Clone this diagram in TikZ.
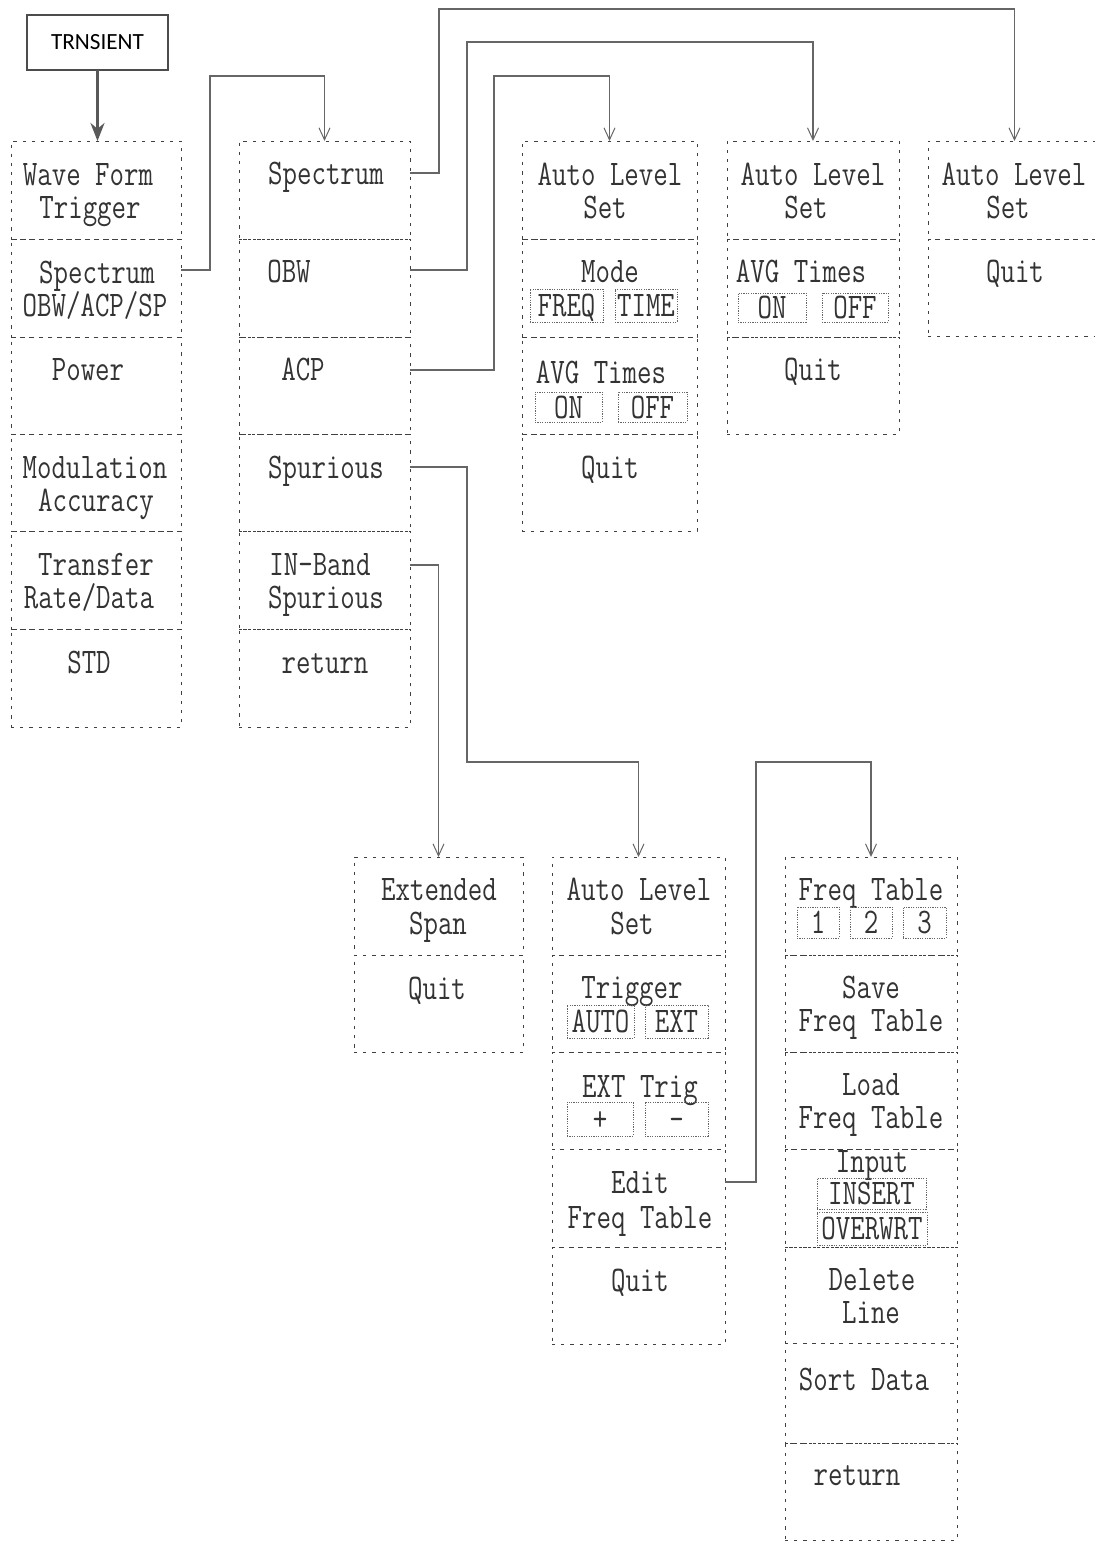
\documentclass[tikz,border=0pt]{standalone}
\usepackage{fontspec}
\newfontfamily\menufnt[FakeStretch=0.78]{Latin Modern Mono}
\newfontfamily\trnfnt{Carlito}
\usetikzlibrary{arrows.meta,calc}
\newcommand\mtxt{\menufnt\fontsize{18}{20}\selectfont}
\newcounter{tn}
\newcommand\tx[3]{\stepcounter{tn}\node[txt] (t\thetn) at (#1,#2) {#3};}
\newcommand\mrow[5]{\node[rowbox, minimum width={#4*0.5pt}, minimum height={#5*0.5pt}] (#1) at (#2,#3) {};}
\newcommand\subbx[6]{\node[subbox, minimum width={(#4-#2)*0.5pt}, minimum height={(#5-#3)*0.5pt}] (#1) at (#2,#3) {#6};}
\begin{document}
\begin{tikzpicture}[x=0.5pt,y=-0.5pt,
  rowbox/.style={draw=black!75, line width=0.5pt, dash pattern=on 1.6pt off 3pt, inner sep=0pt, outer sep=0pt, anchor=north west},
  subbox/.style={draw=black!60, line width=0.45pt, dash pattern=on 0.6pt off 0.6pt, inner sep=0pt, outer sep=0pt, anchor=north west, font=\mtxt, text height=11pt, text depth=0pt, text=black!80},
  txt/.style={font=\mtxt, anchor=base, inner sep=0pt, text=black!80},
  conn/.style={draw=black!60, line width=0.7pt, -{Straight Barb[length=6pt,width=5.5pt,line width=0.5pt]}}]
\useasboundingbox (0,0) rectangle (1094,1543);

% TRNSIENT
\node[draw=black!70, line width=1pt, minimum width=70.5pt, minimum height=27.5pt, inner sep=0pt, outer sep=0pt, font=\trnfnt\fontsize{11.6}{12}\selectfont, anchor=north west] (trn) at (27,15) {TRNSIENT};

% column 1
\mrow{c1r1}{11}{141}{170}{98}
\mrow{c1r2}{11}{239}{170}{98}
\mrow{c1r3}{11}{337}{170}{97}
\mrow{c1r4}{11}{434}{170}{97}
\mrow{c1r5}{11}{531}{170}{98}
\mrow{c1r6}{11}{629}{170}{98}
% column 2
\mrow{c2r1}{239}{141}{171}{98}
\mrow{c2r2}{239}{239}{171}{98}
\mrow{c2r3}{239}{337}{171}{97}
\mrow{c2r4}{239}{434}{171}{97}
\mrow{c2r5}{239}{531}{171}{98}
\mrow{c2r6}{239}{629}{171}{98}
% column 3
\mrow{c3r1}{522}{141}{175}{98}
\mrow{c3r2}{522}{239}{175}{98}
\mrow{c3r3}{522}{337}{175}{97}
\mrow{c3r4}{522}{434}{175}{97}
% column 4
\mrow{c4r1}{727}{141}{172}{98}
\mrow{c4r2}{727}{239}{172}{98}
\mrow{c4r3}{727}{337}{172}{97}
% column 5
\mrow{c5r1}{928}{141}{173}{98}
\mrow{c5r2}{928}{239}{173}{97}
% column 6
\mrow{c6r1}{354}{857}{169}{98}
\mrow{c6r2}{354}{955}{169}{97}
% column 7
\mrow{c7r1}{552}{857}{173}{98}
\mrow{c7r2}{552}{955}{173}{97}
\mrow{c7r3}{552}{1052}{173}{97}
\mrow{c7r4}{552}{1149}{173}{98}
\mrow{c7r5}{552}{1247}{173}{97}
% column 8
\mrow{c8r1}{785}{857}{172}{98}
\mrow{c8r2}{785}{955}{172}{97}
\mrow{c8r3}{785}{1052}{172}{97}
\mrow{c8r4}{785}{1149}{172}{98}
\mrow{c8r5}{785}{1247}{172}{96}
\mrow{c8r6}{785}{1343}{172}{100}
\mrow{c8r7}{785}{1443}{172}{97}

% texts column 1
\tx{88}{185}{Wave Form}
\tx{90}{218}{Trigger}
\tx{97}{283}{Spectrum}
\tx{95}{316}{OBW/ACP/SP}
\tx{88}{380}{Power}
\tx{95}{478}{Modulation}
\tx{96}{511}{Accuracy}
\tx{96}{575}{Transfer}
\tx{89}{608}{Rate/Data}
\tx{89}{673}{STD}
% column 2
\tx{326}{184}{Spectrum}
\tx{289}{282}{OBW}
\tx{303}{380}{ACP}
\tx{326}{478}{Spurious}
\tx{320}{575}{IN-Band}
\tx{326}{608}{Spurious}
\tx{325}{673}{return}
% column 3
\tx{610}{185}{Auto Level}
\tx{605}{218}{Set}
\tx{610}{282}{Mode}
\tx{601}{383}{AVG Times}
\tx{610}{478}{Quit}
% column 4
\tx{813}{185}{Auto Level}
\tx{806}{218}{Set}
\tx{801}{282}{AVG Times}
\tx{813}{380}{Quit}
% column 5
\tx{1014}{185}{Auto Level}
\tx{1008}{218}{Set}
\tx{1015}{282}{Quit}
% column 6
\tx{439}{900}{Extended}
\tx{438}{934}{Span}
\tx{437}{999}{Quit}
% column 7
\tx{639}{900}{Auto Level}
\tx{632}{934}{Set}
\tx{632}{998}{Trigger}
\tx{640}{1097}{EXT Trig}
\tx{640}{1193}{Edit}
\tx{640}{1228}{Freq Table}
\tx{640}{1291}{Quit}
% column 8
\tx{871}{900}{Freq Table}
\tx{871}{998}{Save}
\tx{871}{1031}{Freq Table}
\tx{871}{1095}{Load}
\tx{871}{1128}{Freq Table}
\tx{872}{1172}{Input}
\tx{872}{1290}{Delete}
\tx{871}{1323}{Line}
\tx{864}{1390}{Sort Data}
\tx{857}{1485}{return}

% option boxes
\subbx{freq}{530}{289}{603}{322}{FREQ}
\subbx{time}{615}{289}{677}{322}{TIME}
\subbx{onA}{535}{392}{602}{422}{ON}
\subbx{offA}{618}{392}{687}{422}{OFF}
\subbx{onB}{738}{293}{806}{322}{ON}
\subbx{offB}{822}{293}{888}{322}{OFF}
\subbx{auto}{567}{1005}{634}{1038}{AUTO}
\subbx{ext}{645}{1005}{708}{1038}{EXT}
\subbx{plus}{567}{1102}{633}{1136}{+}
\subbx{minus}{645}{1102}{708}{1136}{-}
\subbx{ft1}{797}{907}{839}{938}{1}
\subbx{ft2}{850}{907}{892}{938}{2}
\subbx{ft3}{903}{907}{946}{938}{3}
\subbx{ins}{817}{1178}{926}{1209}{INSERT}
\subbx{ovw}{817}{1212}{927}{1245}{OVERWRT}

% connectors
\draw[black!65, line width=1.5pt, -{Stealth[length=9pt,width=7pt]}] (trn.south) -- (trn.south |- c1r1.north);
\draw[conn] ($(c1r2.north east)+(0,31)$) -| (210,76) -| (c2r1.north);
\draw[conn] ($(c2r1.north east)+(0,32)$) -| (439,9) -| (c5r1.north);
\draw[conn] ($(c2r2.north east)+(0,31)$) -| (467,42) -| (c4r1.north);
\draw[conn] ($(c2r3.north east)+(0,33)$) -| (494,76) -| (c3r1.north);
\draw[conn] ($(c2r4.north east)+(0,33)$) -| (467,762) -| (c7r1.north);
\draw[conn] ($(c2r5.north east)+(0,34)$) -| (c6r1.north);
\draw[conn] ($(c7r4.north east)+(0,33)$) -| (756,762) -| (c8r1.north);
\end{tikzpicture}
\end{document}
